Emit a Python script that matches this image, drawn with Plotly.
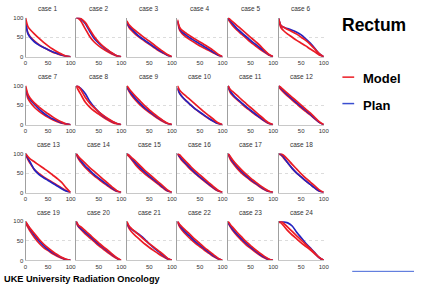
import plotly.graph_objects as go

# ---------------- data ----------------
dose = [0, 5, 10, 20, 30, 40, 50, 60, 70, 80, 90, 100]
case_names = [f"case {i}" for i in range(1, 25)]

model_upper = [
    [100, 78, 70, 58, 47, 37, 28, 20, 13, 7, 2, 0],
    [100, 100, 98, 88, 70, 52, 38, 27, 18, 10, 3, 0],
    [92, 82, 76, 66, 57, 48, 40, 31, 22, 14, 6, 0],
    [95, 75, 68, 60, 52, 45, 38, 31, 24, 16, 7, 0],
    [100, 95, 90, 80, 70, 60, 50, 40, 30, 18, 7, 0],
    [98, 80, 76, 70, 64, 58, 50, 42, 32, 20, 8, 0],
    [100, 78, 68, 55, 45, 36, 28, 20, 13, 7, 2, 0],
    [100, 97, 90, 70, 55, 43, 33, 24, 16, 9, 3, 0],
    [100, 92, 85, 72, 60, 48, 38, 28, 19, 11, 4, 0],
    [100, 88, 82, 72, 62, 52, 42, 32, 23, 14, 5, 0],
    [100, 90, 85, 75, 64, 54, 44, 34, 24, 14, 5, 0],
    [100, 95, 90, 80, 70, 60, 50, 40, 30, 19, 8, 0],
    [100, 92, 86, 78, 70, 62, 54, 45, 36, 26, 12, 0],
    [100, 92, 86, 75, 64, 54, 44, 34, 24, 14, 5, 0],
    [100, 95, 90, 80, 68, 57, 47, 37, 27, 17, 7, 0],
    [100, 96, 90, 78, 66, 55, 45, 35, 25, 15, 6, 0],
    [100, 92, 84, 70, 58, 47, 37, 28, 19, 11, 4, 0],
    [100, 100, 96, 85, 72, 60, 48, 37, 27, 17, 7, 0],
    [100, 90, 82, 68, 54, 42, 32, 23, 15, 8, 3, 0],
    [100, 90, 86, 76, 66, 55, 45, 35, 26, 16, 7, 0],
    [100, 88, 82, 72, 62, 52, 43, 34, 25, 16, 6, 0],
    [100, 92, 86, 75, 64, 53, 43, 33, 24, 15, 6, 0],
    [100, 92, 85, 72, 60, 48, 38, 28, 19, 11, 4, 0],
    [100, 100, 96, 85, 74, 63, 52, 41, 30, 19, 8, 0],
]

model_lower = [
    [90, 62, 52, 40, 31, 24, 18, 12, 8, 4, 1, 0],
    [100, 98, 92, 72, 52, 38, 28, 20, 13, 7, 2, 0],
    [88, 75, 68, 57, 48, 40, 32, 24, 16, 10, 4, 0],
    [90, 68, 60, 50, 42, 35, 28, 22, 16, 10, 4, 0],
    [97, 88, 80, 68, 58, 48, 38, 29, 20, 12, 5, 0],
    [95, 75, 68, 58, 50, 42, 35, 28, 20, 13, 5, 0],
    [92, 68, 58, 44, 34, 26, 19, 13, 8, 4, 1, 0],
    [98, 88, 78, 58, 45, 35, 27, 19, 12, 6, 2, 0],
    [97, 85, 76, 62, 50, 40, 31, 23, 15, 8, 3, 0],
    [92, 80, 72, 60, 50, 40, 31, 23, 15, 9, 3, 0],
    [97, 82, 75, 64, 54, 44, 35, 26, 18, 10, 3, 0],
    [98, 90, 84, 73, 63, 53, 43, 34, 25, 15, 6, 0],
    [98, 85, 75, 58, 48, 40, 33, 26, 19, 12, 5, 0],
    [98, 86, 78, 64, 53, 43, 34, 25, 17, 9, 3, 0],
    [98, 92, 85, 70, 58, 48, 39, 30, 21, 12, 4, 0],
    [98, 90, 82, 70, 58, 48, 38, 29, 20, 11, 4, 0],
    [98, 85, 76, 62, 50, 40, 31, 23, 15, 8, 3, 0],
    [98, 96, 90, 76, 62, 50, 40, 30, 21, 12, 4, 0],
    [95, 85, 75, 58, 44, 33, 25, 17, 11, 6, 2, 0],
    [95, 86, 80, 68, 58, 48, 38, 29, 20, 12, 5, 0],
    [95, 82, 74, 62, 52, 42, 33, 25, 17, 10, 4, 0],
    [97, 86, 78, 65, 54, 44, 35, 26, 18, 10, 4, 0],
    [96, 86, 77, 63, 51, 40, 31, 22, 14, 7, 2, 0],
    [98, 96, 90, 76, 65, 55, 45, 36, 27, 17, 7, 0],
]

plan = [
    [88, 60, 50, 38, 30, 24, 18, 13, 9, 5, 2, 0],
    [100, 100, 97, 85, 65, 47, 35, 25, 17, 9, 3, 0],
    [90, 78, 72, 60, 50, 42, 34, 26, 18, 11, 4, 0],
    [92, 72, 64, 55, 47, 40, 33, 26, 19, 12, 5, 0],
    [100, 92, 85, 72, 62, 52, 42, 33, 24, 15, 6, 0],
    [98, 80, 76, 72, 68, 63, 56, 46, 35, 22, 8, 0],
    [95, 75, 65, 52, 40, 30, 22, 15, 10, 5, 2, 0],
    [100, 97, 93, 80, 60, 45, 33, 23, 15, 8, 3, 0],
    [98, 88, 80, 66, 54, 43, 34, 25, 17, 10, 3, 0],
    [94, 80, 72, 60, 50, 40, 32, 24, 16, 9, 3, 0],
    [100, 86, 78, 66, 56, 46, 37, 28, 19, 11, 4, 0],
    [100, 93, 87, 76, 66, 56, 46, 37, 27, 16, 6, 0],
    [100, 88, 78, 58, 46, 38, 31, 24, 17, 10, 4, 0],
    [100, 90, 82, 68, 57, 46, 37, 28, 19, 11, 4, 0],
    [100, 95, 88, 75, 63, 52, 42, 33, 24, 14, 5, 0],
    [100, 92, 85, 73, 61, 50, 40, 31, 22, 13, 5, 0],
    [100, 90, 80, 66, 54, 43, 34, 25, 17, 9, 3, 0],
    [100, 98, 92, 76, 62, 50, 40, 30, 21, 12, 4, 0],
    [98, 90, 80, 64, 50, 38, 28, 20, 13, 7, 2, 0],
    [100, 88, 82, 72, 62, 52, 42, 33, 24, 15, 6, 0],
    [98, 86, 80, 72, 64, 54, 42, 32, 23, 14, 5, 0],
    [100, 90, 82, 70, 59, 48, 39, 30, 21, 12, 5, 0],
    [98, 88, 80, 67, 55, 44, 34, 25, 16, 9, 3, 0],
    [100, 100, 99, 96, 88, 72, 58, 44, 32, 20, 7, 0],
]

y_ticks = [0, 50, 100]
x_ticks_first = [0, 50, 100]
x_ticks_other = [50, 100]

# ---------------- layout geometry ----------------
W, H = 421, 290
N_ROWS, N_COLS = 4, 6
COL_LEFT, COL_STEP, PLOT_W = 24, 51.6, 46
ROW_TOP, ROW_STEP, PLOT_H = 15, 69.3, 40

RED = "#ec1c24"
BLUE = "#2424c0"
FONT = "Liberation Sans, Arial"
TICK_FONT = dict(family=FONT, size=6, color="#333333")

fig = go.Figure()
layout = dict(
    width=W, height=H, autosize=False,
    margin=dict(l=0, r=0, t=0, b=0),
    paper_bgcolor="white", plot_bgcolor="white",
    showlegend=False,
)
annotations = []

for i in range(24):
    r, c = divmod(i, N_COLS)
    k = i + 1
    xa = "x" if k == 1 else f"x{k}"
    ya = "y" if k == 1 else f"y{k}"
    x0 = (COL_LEFT + COL_STEP * c) / W
    x1 = (COL_LEFT + COL_STEP * c + PLOT_W) / W
    top = ROW_TOP + ROW_STEP * r
    y1 = 1 - top / H
    y0 = 1 - (top + PLOT_H) / H

    for series, color in ((model_lower[i], RED), (plan[i], BLUE), (model_upper[i], RED)):
        fig.add_trace(go.Scatter(
            x=dose, y=series, mode="lines", xaxis=xa, yaxis=ya,
            line=dict(color=color, width=1.7, shape="spline", smoothing=0.8),
            hoverinfo="skip",
        ))

    layout["xaxis" if k == 1 else f"xaxis{k}"] = dict(
        domain=[x0, x1], range=[0, 100], anchor=ya,
        tickvals=x_ticks_first if c == 0 else x_ticks_other,
        ticks="", tickfont=TICK_FONT, showgrid=False, zeroline=False,
        showline=True, linecolor="#c8c8c8", linewidth=1, fixedrange=True,
    )
    layout["yaxis" if k == 1 else f"yaxis{k}"] = dict(
        domain=[y0, y1], range=[0, 100], anchor=xa,
        tickvals=y_ticks, showticklabels=(c == 0),
        ticks="", tickfont=TICK_FONT,
        showgrid=True, gridcolor="#dcdcdc", griddash="dot", gridwidth=1,
        zeroline=False, showline=True, linecolor="#a0a0a0", linewidth=1,
        fixedrange=True,
    )
    annotations.append(dict(
        text=case_names[i], xref="paper", yref="paper",
        x=(x0 + x1) / 2, y=1 - (top - 9) / H, showarrow=False,
        xanchor="center", yanchor="middle",
        font=dict(family=FONT, size=6.5, color="#333333"),
    ))

# titles / legend / footer
annotations.append(dict(text="<b>Rectum</b>", xref="paper", yref="paper",
                        x=345 / W, y=1 - 22 / H, xanchor="left", yanchor="middle",
                        showarrow=False,
                        font=dict(family=FONT, size=17.5, color="black")))
annotations.append(dict(text="<b>Model</b>", xref="paper", yref="paper",
                        x=366 / W, y=1 - 77.5 / H, xanchor="left", yanchor="middle",
                        showarrow=False,
                        font=dict(family=FONT, size=13, color="black")))
annotations.append(dict(text="<b>Plan</b>", xref="paper", yref="paper",
                        x=366 / W, y=1 - 104.5 / H, xanchor="left", yanchor="middle",
                        showarrow=False,
                        font=dict(family=FONT, size=13, color="black")))
annotations.append(dict(text="<b>UKE University Radiation Oncology</b>", xref="paper", yref="paper",
                        x=0, y=1 - 281.5 / H, xanchor="left", yanchor="middle",
                        showarrow=False,
                        font=dict(family=FONT, size=9.2, color="black")))

shapes = [
    dict(type="line", xref="paper", yref="paper", x0=347 / W, x1=359 / W,
         y0=1 - 75.7 / H, y1=1 - 75.7 / H, line=dict(color=RED, width=1.5)),
    dict(type="line", xref="paper", yref="paper", x0=347 / W, x1=359 / W,
         y0=1 - 102.7 / H, y1=1 - 102.7 / H, line=dict(color="#3a4ed0", width=1.5)),
    dict(type="line", xref="paper", yref="paper", x0=357 / W, x1=420 / W,
         y0=1 - 274 / H, y1=1 - 274 / H, line=dict(color="#4466d8", width=1)),
]

layout["annotations"] = annotations
layout["shapes"] = shapes
fig.update_layout(**layout)
fig.write_html(
    "out.html",
    config={"displayModeBar": False},
    post_script="document.body.style.margin='0';document.body.style.overflow='hidden';",
)
